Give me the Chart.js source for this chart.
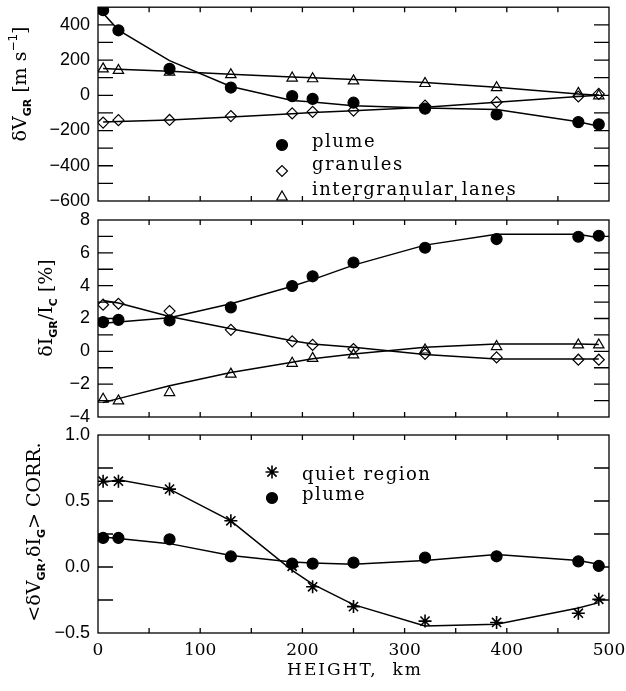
<!DOCTYPE html>
<html>
<head>
<meta charset="utf-8">
<script src="https://cdn.jsdelivr.net/npm/chart.js@4"></script>
<style>
html, body { margin: 0; padding: 0; background: #fff; }
#wrap { position: relative; width: 626px; height: 691px; overflow: hidden; }
canvas { position: absolute; left: 0; }
</style>
</head>
<body>
<div id="wrap">
    <canvas id="vel" width="626" height="215" style="top:0px"></canvas>
    <canvas id="int" width="626" height="225" style="top:205px"></canvas>
    <canvas id="corr" width="626" height="271" style="top:420px"></canvas>
</div>
<script>
const heights = [5, 20, 70, 130, 190, 210, 250, 320, 390, 470, 490];

// top panel: velocity difference, m/s
const vel_plume = [483, 369, 150, 44, -5, -20, -42, -76, -109, -152, -165];
const vel_plume_fit = [465, 370, 197, 50, -30, -38, -59, -72, -81, -150, -176];
const vel_gran = [-155, -141, -140, -118, -103, -94, -87, -59, -39, -7, 8];
const vel_gran_fit = [-152, -149, -140, -123, -105, -97, -88, -68, -40, -7, 0];
const vel_lane = [150, 141, 132, 117, 98, 94, 82, 67, 43, 11, -3];
const vel_lane_fit = [152, 148, 136, 120, 104, 100, 89, 72, 46, 8, 0];

// middle panel: intensity difference, %
const int_plume = [1.78, 1.92, 1.88, 2.68, 3.98, 4.57, 5.41, 6.31, 6.84, 6.98, 7.04];
const int_plume_fit = [1.71, 1.79, 2.05, 2.9, 3.96, 4.37, 5.25, 6.47, 7.13, 7.13, 6.92];
const int_gran = [2.84, 2.9, 2.45, 1.31, 0.61, 0.39, 0.14, -0.16, -0.37, -0.51, -0.51];
const int_gran_fit = [3.1, 2.95, 2.12, 1.37, 0.65, 0.45, 0.25, -0.2, -0.47, -0.47, -0.47];
const int_lane = [-2.92, -3.02, -2.51, -1.39, -0.73, -0.43, -0.22, 0.08, 0.29, 0.39, 0.39];
const int_lane_fit = [-3.12, -2.88, -2.1, -1.29, -0.67, -0.45, -0.16, 0.25, 0.45, 0.45, 0.41];

// bottom panel: correlation
const corr_quiet = [0.65, 0.65, 0.59, 0.35, 0.005, -0.15, -0.30, -0.41, -0.42, -0.35, -0.245];
const corr_quiet_fit = [0.64, 0.66, 0.59, 0.35, -0.025, -0.13, -0.285, -0.447, -0.434, -0.31, -0.27];
const corr_plume = [0.22, 0.22, 0.21, 0.08, 0.026, 0.026, 0.033, 0.071, 0.081, 0.043, 0.008];
const corr_plume_fit = [0.227, 0.215, 0.177, 0.088, 0.038, 0.031, 0.02, 0.05, 0.094, 0.05, 0.02];

const x_labels = [0, 100, 200, 300, 400, 500];
const vel_labels = [-600, -400, -200, 0, 200, 400];
const int_labels = [-4, -2, 0, 2, 4, 6, 8];
const corr_labels = [-0.5, 0, 0.5, 1];

const SERIF = "'DejaVu Serif', serif";
const SANS = "'Liberation Sans', Arial, sans-serif";

const minus = s => String(s).replace('-', '\u2212');

function pts(ys) {
    return heights.map((h, i) => ({ x: h, y: ys[i] }));
}

function marks(ys, style, radius, filled) {
    return {
        data: pts(ys),
        showLine: false,
        pointStyle: style,
        pointRadius: radius,
        pointHoverRadius: radius,
        pointBackgroundColor: filled ? '#000' : 'rgba(0,0,0,0)',
        pointBorderColor: '#000',
        pointBorderWidth: style == 'star' ? 1.6 : 1.2,
        clip: 0
    };
}

function fit(ys) {
    return {
        data: pts(ys),
        showLine: true,
        borderColor: '#000',
        borderWidth: 1.5,
        pointRadius: 0,
        pointHoverRadius: 0,
        tension: 0
    };
}

// rotated axis title with sub/superscripts
function draw_rich(ctx, parts, bx, cy) {
    ctx.save();
    ctx.translate(bx, cy);
    ctx.rotate(-Math.PI / 2);
    ctx.textAlign = 'left';
    ctx.textBaseline = 'alphabetic';
    let w = 0;
    parts.forEach(p => { ctx.font = p.font; w += ctx.measureText(p.t).width; });
    let x = -w / 2;
    parts.forEach(p => {
        ctx.font = p.font;
        ctx.fillText(p.t, x, p.dy || 0);
        x += ctx.measureText(p.t).width;
    });
    ctx.restore();
}

const frame_plugin = {
    id: 'frame',
    afterDatasetsDraw(chart, args, opts) {
        const { ctx, chartArea: a } = chart;
        const x = chart.scales.x, y = chart.scales.y;
        ctx.save();
        ctx.strokeStyle = '#000';
        ctx.fillStyle = '#000';
        ctx.lineWidth = 1.3;
        ctx.strokeRect(a.left, a.top, a.right - a.left, a.bottom - a.top);

        // inward ticks on all four sides
        ctx.beginPath();
        for (let v = x.min + 50; v < x.max; v += 50) {
            const px = x.getPixelForValue(v);
            ctx.moveTo(px, a.bottom); ctx.lineTo(px, a.bottom - 5);
            ctx.moveTo(px, a.top); ctx.lineTo(px, a.top + 5);
        }
        for (let v = y.min + opts.yStep; v < y.max - 1e-9; v += opts.yStep) {
            const py = y.getPixelForValue(v);
            ctx.moveTo(a.left, py); ctx.lineTo(a.left + 15, py);
            ctx.moveTo(a.right, py); ctx.lineTo(a.right - 15, py);
        }
        ctx.stroke();

        // legend inside the plot
        ctx.font = '18px ' + SERIF;
        ctx.letterSpacing = '1.5px';
        ctx.textAlign = 'left';
        ctx.textBaseline = 'alphabetic';
        (opts.legend || []).forEach(item => {
            ctx.fillStyle = item.filled ? '#000' : 'rgba(0,0,0,0)';
            ctx.lineWidth = item.style == 'star' ? 1.6 : 1.2;
            Chart.helpers.drawPoint(ctx, { pointStyle: item.style, radius: item.radius, borderWidth: 1.2, rotation: 0 }, item.mx, item.my);
            ctx.fillStyle = '#000';
            ctx.fillText(item.text, item.tx, item.ty);
        });
        ctx.letterSpacing = '0px';

        if (opts.title) {
            draw_rich(ctx, opts.title.parts, opts.title.x, opts.title.y);
        }
        if (opts.xtitle) {
            ctx.font = '17px ' + SERIF;
            ctx.letterSpacing = '2px';
            ctx.textAlign = 'center';
            ctx.fillText(opts.xtitle.text, opts.xtitle.x, opts.xtitle.y);
        }
        ctx.restore();
    }
};

function make_panel(id, datasets, y_min, y_max, y_labels, y_step, fmt, padding, show_x, frame) {
    return new Chart(document.getElementById(id), {
        type: 'scatter',
        data: { datasets: datasets },
        plugins: [frame_plugin],
        options: {
            responsive: false,
            animation: false,
            events: [],
            layout: { padding: padding },
            scales: {
                x: {
                    type: 'linear',
                    min: 0,
                    max: 500,
                    display: show_x,
                    grid: { display: false, drawTicks: false },
                    border: { display: false },
                    afterBuildTicks: s => { s.ticks = x_labels.map(v => ({ value: v })); },
                    afterFit: s => {
                        if (!show_x) return;
                        s.height = 58;
                        s.paddingLeft = 0;
                        s.paddingRight = 0;
                    },
                    ticks: {
                        padding: 7,
                        color: '#000',
                        maxRotation: 0,
                        font: { family: SERIF, size: 17 }
                    }
                },
                y: {
                    type: 'linear',
                    min: y_min,
                    max: y_max,
                    grid: { display: false, drawTicks: false },
                    border: { display: false },
                    afterBuildTicks: s => { s.ticks = y_labels.map(v => ({ value: v })); },
                    afterFit: s => { s.width = 98; s.paddingTop = 0; s.paddingBottom = 0; },
                    ticks: {
                        padding: 8,
                        color: '#000',
                        font: { family: SANS, size: 18 },
                        callback: fmt
                    }
                }
            },
            plugins: {
                legend: { display: false },
                tooltip: { enabled: false },
                frame: frame
            }
        }
    });
}

const main_font = '19px ' + SERIF;
const sub_font = 'bold 11px ' + "'DejaVu Sans', sans-serif";
const sup_font = '12px ' + "'DejaVu Sans', sans-serif";

let vel_chart = make_panel('vel', [
    marks(vel_plume, 'circle', 5.5, true),
    marks(vel_gran, 'rectRot', 5.5, false),
    marks(vel_lane, 'triangle', 6, false),
    fit(vel_plume_fit),
    fit(vel_gran_fit),
    fit(vel_lane_fit)
], -600, 500, vel_labels, 100, v => minus(v), { left: 0, right: 17, top: 5, bottom: 14 }, false, {
    yStep: 100,
    legend: [
        { text: 'plume', style: 'circle', radius: 5.5, filled: true, mx: 282, my: 145, tx: 312, ty: 147 },
        { text: 'granules', style: 'rectRot', radius: 5.5, filled: false, mx: 282, my: 171, tx: 312, ty: 170 },
        { text: 'intergranular lanes', style: 'triangle', radius: 6, filled: false, mx: 282, my: 197, tx: 312, ty: 195 }
    ],
    title: {
        x: 26, y: 84,
        parts: [
            { t: '\u03B4V', font: main_font },
            { t: 'GR', font: sub_font, dy: 5 },
            { t: ' [m s', font: main_font },
            { t: '\u22121', font: sup_font, dy: -9 },
            { t: ']', font: main_font }
        ]
    }
});

let int_chart = make_panel('int', [
    marks(int_plume, 'circle', 5.5, true),
    marks(int_gran, 'rectRot', 5.5, false),
    marks(int_lane, 'triangle', 6, false),
    fit(int_plume_fit),
    fit(int_gran_fit),
    fit(int_lane_fit)
], -4, 8, int_labels, 1, v => minus(v), { left: 0, right: 17, top: 15, bottom: 13 }, false, {
    yStep: 1,
    title: {
        x: 52, y: 103,
        parts: [
            { t: '\u03B4I', font: main_font },
            { t: 'GR', font: sub_font, dy: 5 },
            { t: '/I', font: main_font },
            { t: 'C', font: sub_font, dy: 5 },
            { t: ' [%]', font: main_font }
        ]
    }
});

let corr_chart = make_panel('corr', [
    marks(corr_quiet, 'star', 6.5, false),
    marks(corr_plume, 'circle', 5.5, true),
    fit(corr_quiet_fit),
    fit(corr_plume_fit)
], -0.5, 1, corr_labels, 0.25, v => minus(v.toFixed(1)), { left: 0, right: 17, top: 15, bottom: 0 }, true, {
    yStep: 0.25,
    legend: [
        { text: 'quiet region', style: 'star', radius: 6.5, filled: false, mx: 272, my: 52, tx: 302, ty: 60 },
        { text: 'plume', style: 'circle', radius: 5.5, filled: true, mx: 272, my: 78, tx: 302, ty: 80 }
    ],
    title: {
        x: 40, y: 112,
        parts: [
            { t: '<\u03B4V', font: main_font },
            { t: 'GR', font: sub_font, dy: 5 },
            { t: ',\u03B4I', font: main_font },
            { t: 'G', font: sub_font, dy: 5 },
            { t: '> CORR.', font: main_font }
        ]
    },
    xtitle: { text: 'HEIGHT,  km', x: 355, y: 255 }
});
</script>
</body>
</html>
